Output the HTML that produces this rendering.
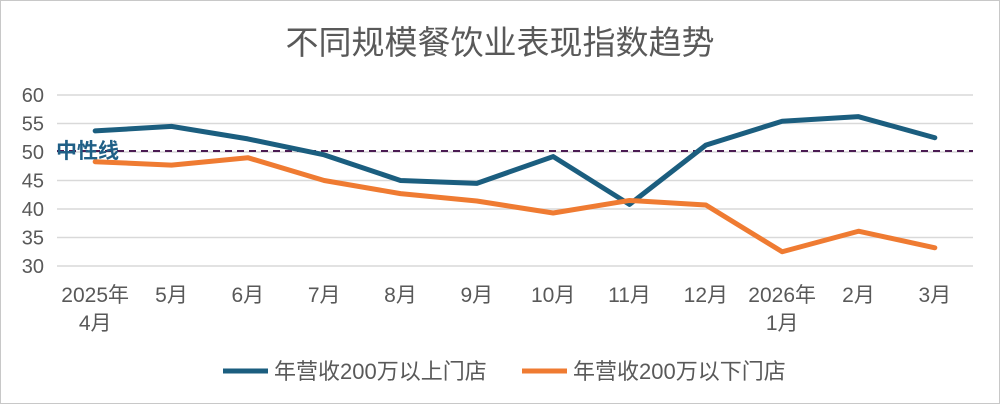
<!DOCTYPE html>
<html><head><meta charset="utf-8"><style>
body{margin:0;background:#fff}
svg{display:block;font-family:"Liberation Sans","Noto Sans CJK SC",sans-serif}
</style></head><body>
<svg width="1000" height="404">
<rect x="0.5" y="0.5" width="999" height="403" fill="#fff" stroke="#c8c8c8"/>
<text x="500" y="54" text-anchor="middle" font-size="33" fill="#595959">不同规模餐饮业表现指数趋势</text>
<g id="grid"></g><g id="ylab"></g><g id="xlab"></g><g id="lines"></g>
<text x="56" y="158" font-size="21" font-weight="bold" fill="#1f5f86">中性线</text>
<g>
<line x1="223" y1="371" x2="268" y2="371" stroke="#1b5e7f" stroke-width="5"/>
<text x="274" y="379" font-size="22" fill="#595959">年营收200万以上门店</text>
<line x1="522" y1="371" x2="567" y2="371" stroke="#ef7b32" stroke-width="5"/>
<text x="573" y="379" font-size="22" fill="#595959">年营收200万以下门店</text>
</g>
</svg>
<script>
const categories=[["2025年","4月"],["5月"],["6月"],["7月"],["8月"],["9月"],["10月"],["11月"],["12月"],["2026年","1月"],["2月"],["3月"]];
const seriesLarge=[53.7,54.5,52.3,49.5,45,44.5,49.2,40.8,51.2,55.4,56.2,52.5];
const seriesSmall=[48.3,47.7,49,45,42.7,41.4,39.3,41.5,40.7,32.5,36.1,33.2];
const yTicks=[30,35,40,45,50,55,60];
const neutral=50;
const NS="http://www.w3.org/2000/svg";
const L=57,R=973,T=95,B=266,ymin=30,ymax=60;
const x=i=>L+(R-L)/categories.length*(i+0.5);
const y=v=>B-(v-ymin)/(ymax-ymin)*(B-T);
function mk(t,a,p){const e=document.createElementNS(NS,t);for(const k in a)e.setAttribute(k,a[k]);p.appendChild(e);return e;}
const g=document.getElementById('grid'),yl=document.getElementById('ylab'),xl=document.getElementById('xlab'),ln=document.getElementById('lines');
yTicks.forEach(v=>{
 const l=mk('line',{x1:L,x2:R,y1:y(v),y2:y(v),stroke:'#d9d9d9','stroke-width':1.5},g);
 
 
 const t=mk('text',{x:44,y:y(v)+7,'text-anchor':'end','font-size':20,fill:'#595959'},yl);t.textContent=v;
 
 
});
categories.forEach((c,i)=>{
 c.forEach((s,j)=>{const t=mk('text',{x:x(i),y:302+j*28,'text-anchor':'middle','font-size':21,fill:'#595959'},xl);t.textContent=s;
 
 });
});
const d=mk('line',{x1:L,x2:R,y1:y(neutral)-1,y2:y(neutral)-1,stroke:'#4b1c52','stroke-width':2,'stroke-dasharray':'7,5'},ln);


[[seriesLarge,'#1b5e7f','line-large-stores'],[seriesSmall,'#ef7b32','line-small-stores']].forEach(([s,c,n])=>{
 const p=mk('polyline',{points:s.map((v,i)=>x(i)+','+y(v)).join(' '),fill:'none',stroke:c,'stroke-width':5,'stroke-linejoin':'round','stroke-linecap':'round'},ln);
 
 
});
</script>
</body></html>
